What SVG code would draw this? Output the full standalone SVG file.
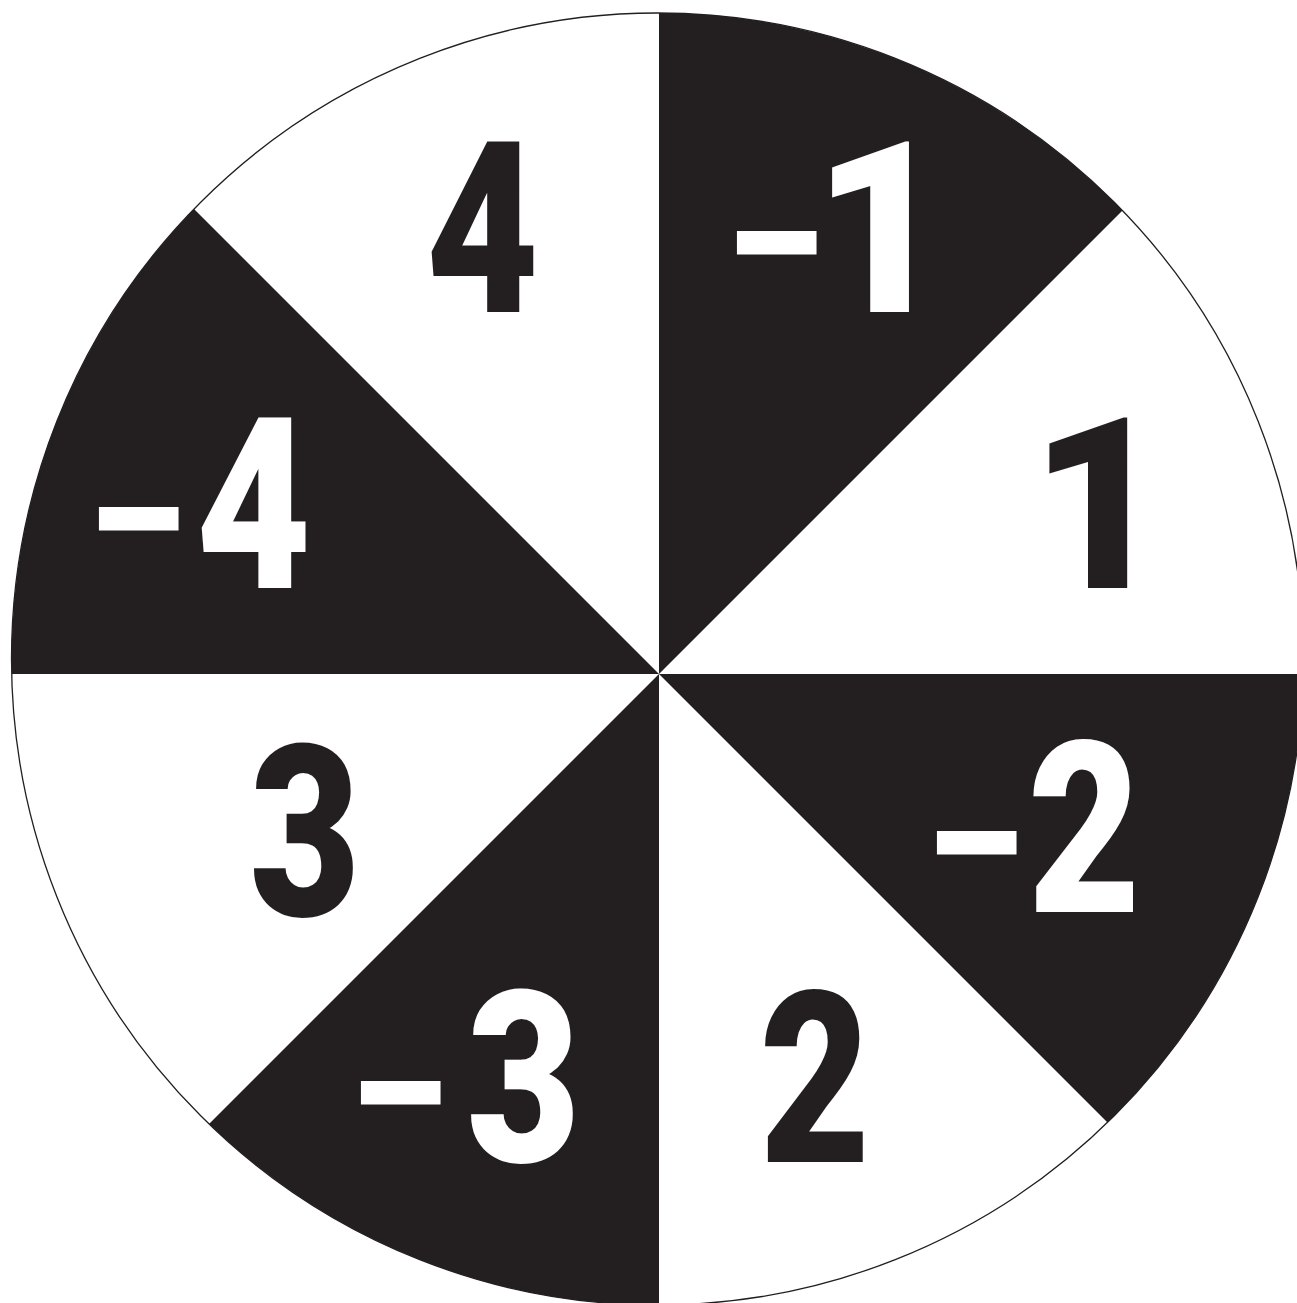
<svg xmlns="http://www.w3.org/2000/svg" width="1297" height="1303" viewBox="0 0 1297 1303">
<style>
.bg{fill:#ffffff}
.blk{fill:#231f20}
.rim{fill:none;stroke:#231f20;stroke-width:1.3}
.num{font-family:Roboto,"Liberation Sans",Arial,sans-serif;font-weight:900;font-size:239px}
.mn{font-size:185px}
.w{fill:#ffffff}
.d{fill:#231f20}
</style>
<rect class="bg" x="0" y="0" width="1297" height="1303"/>
<g id="wheel">
<circle class="rim" cx="657.5" cy="659" r="646"/>
</g>
<g id="sector-m1"><path class="blk" d="M659 674 L659 13 A646 646 0 0 1 1122.5 210.5 Z"/></g>
<g id="sector-m2"><path class="blk" d="M659 674 L1303.3 674 A646 646 0 0 1 1107.5 1122.5 Z"/></g>
<g id="sector-m3"><path class="blk" d="M659 674 L659 1305 A646 646 0 0 1 209 1124 Z"/></g>
<g id="sector-m4"><path class="blk" d="M659 674 L11.7 674 A646 646 0 0 1 194 209 Z"/></g>
<g id="label-4"><text class="num d" y="312"><tspan x="426" textLength="113" lengthAdjust="spacingAndGlyphs">4</tspan></text></g>
<g id="label-m1"><text class="num w"><tspan class="mn" x="716.8" y="299.5" textLength="122" lengthAdjust="spacingAndGlyphs">-</tspan><tspan x="813.1" y="312" textLength="136.2" lengthAdjust="spacingAndGlyphs">1</tspan></text></g>
<g id="label-1"><text class="num d" y="588"><tspan x="1030" textLength="138" lengthAdjust="spacingAndGlyphs">1</tspan></text></g>
<g id="label-m4"><text class="num w"><tspan class="mn" x="78.8" y="575.5" textLength="122" lengthAdjust="spacingAndGlyphs">-</tspan><tspan x="195.9" y="588" textLength="115.2" lengthAdjust="spacingAndGlyphs">4</tspan></text></g>
<g id="label-3"><text class="num d" y="916"><tspan x="249.5" textLength="111" lengthAdjust="spacingAndGlyphs">3</tspan></text></g>
<g id="label-m2"><text class="num w"><tspan class="mn" x="916.8" y="899.5" textLength="122" lengthAdjust="spacingAndGlyphs">-</tspan><tspan x="1027.8" y="912" textLength="113" lengthAdjust="spacingAndGlyphs">2</tspan></text></g>
<g id="label-2"><text class="num d" y="1162"><tspan x="759.6" textLength="110.8" lengthAdjust="spacingAndGlyphs">2</tspan></text></g>
<g id="label-m3"><text class="num w"><tspan class="mn" x="340.8" y="1149.5" textLength="122" lengthAdjust="spacingAndGlyphs">-</tspan><tspan x="466.5" y="1162" textLength="114" lengthAdjust="spacingAndGlyphs">3</tspan></text></g>
</svg>
